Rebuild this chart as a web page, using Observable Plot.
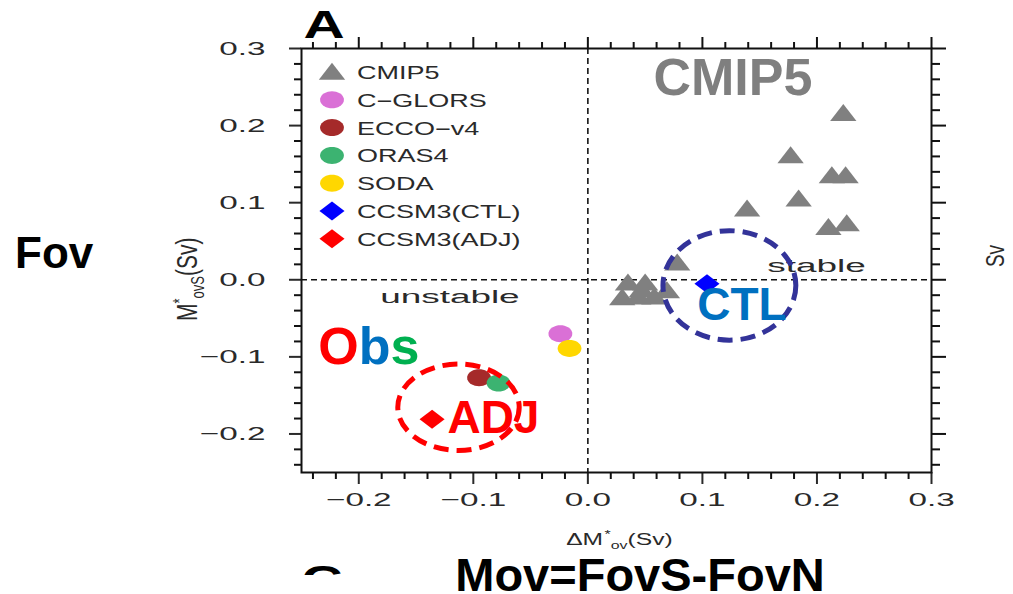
<!DOCTYPE html>
<html>
<head>
<meta charset="utf-8">
<script src="https://cdn.jsdelivr.net/npm/d3@7"></script>
<script src="https://cdn.jsdelivr.net/npm/@observablehq/plot@0.6"></script>
<style>
  html, body { margin: 0; padding: 0; background: #fff; }
  #chart { position: relative; width: 1013px; height: 594px; overflow: hidden; }
</style>
</head>
<body>
<div id="chart"></div>
<script>
// ---- data (Sv) ----
const cmip5X = [0.223, 0.177, 0.213, 0.225, 0.184, 0.139, 0.210, 0.226, 0.078,
                0.035, 0.050, 0.030, 0.044, 0.058, 0.069, 0.047];
const cmip5Y = [0.216, 0.161, 0.135, 0.135, 0.105, 0.092, 0.068, 0.073, 0.022,
                -0.004, -0.004, -0.023, -0.022, -0.022, -0.014, -0.013];

const reanalysisNames = ["C-GLORS", "ECCO-v4", "ORAS4", "SODA"];
const reanalysisX = [-0.024, -0.095, -0.078, -0.016];
const reanalysisY = [-0.070, -0.127, -0.134, -0.089];

const ccsm3Names = ["CCSM3(CTL)", "CCSM3(ADJ)"];
const ccsm3X = [0.104, -0.136];
const ccsm3Y = [-0.005, -0.181];

const legendNames = ["CMIP5", "C\u2212GLORS", "ECCO\u2212v4", "ORAS4", "SODA", "CCSM3(CTL)", "CCSM3(ADJ)"];
const legendShapes = ["triangle", "ellipse", "ellipse", "ellipse", "ellipse", "diamond", "diamond"];
const seriesColors = {
  "CMIP5": "#808080", "C-GLORS": "#da70d6", "ECCO-v4": "#a52a2a", "ORAS4": "#3cb371",
  "SODA": "#ffd700", "CCSM3(CTL)": "#0000ff", "CCSM3(ADJ)": "#ff0000"
};
const legendColors = ["#808080", "#da70d6", "#a52a2a", "#3cb371", "#ffd700", "#0000ff", "#ff0000"];

const majorTicks = [-0.2, -0.1, 0.0, 0.1, 0.2, 0.3];
const minorTicks = [-0.24, -0.22, -0.18, -0.16, -0.14, -0.12, -0.08, -0.06, -0.04, -0.02,
                    0.02, 0.04, 0.06, 0.08, 0.12, 0.14, 0.16, 0.18, 0.22, 0.24, 0.26, 0.28];

// ---- tables ----
const cmip5 = cmip5X.map((x, i) => ({x, y: cmip5Y[i]}));
const reanalysis = reanalysisNames.map((name, i) => ({name, x: reanalysisX[i], y: reanalysisY[i]}));
const ccsm3 = ccsm3Names.map((name, i) => ({name, x: ccsm3X[i], y: ccsm3Y[i]}));

// ---- wide marker shapes (symbol objects, size = area) ----
const wideTriangle = {draw(ctx, size) {
  const r = Math.sqrt(size / Math.PI);
  ctx.moveTo(0, -1.1 * r); ctx.lineTo(1.55 * r, 0.9 * r); ctx.lineTo(-1.55 * r, 0.9 * r); ctx.closePath();
}};
const wideEllipse = {draw(ctx, size) {
  const r = Math.sqrt(size / Math.PI), n = 36;
  for (let i = 0; i < n; ++i) {
    const a = 2 * Math.PI * i / n, px = 1.4 * r * Math.cos(a), py = r * Math.sin(a);
    i ? ctx.lineTo(px, py) : ctx.moveTo(px, py);
  }
  ctx.closePath();
}};
const wideDiamond = {draw(ctx, size) {
  const r = Math.sqrt(size / Math.PI);
  ctx.moveTo(0, -r); ctx.lineTo(1.32 * r, 0); ctx.lineTo(0, r); ctx.lineTo(-1.32 * r, 0); ctx.closePath();
}};
const shapeOf = {triangle: wideTriangle, ellipse: wideEllipse, diamond: wideDiamond};

const fmt = d3.format(".1f");
const noLabel = () => "";
const FONT = "'Liberation Sans', Arial, Helvetica, sans-serif";
const INK = "#111";

const plot = Plot.plot({
  width: 1013,
  height: 594,
  marginLeft: 301,
  marginRight: 82,
  marginTop: 48,
  marginBottom: 122,
  x: {domain: [-0.25, 0.3]},
  y: {domain: [-0.25, 0.3]},
  style: {fontFamily: FONT, background: "transparent", overflow: "visible"},
  marks: [
    Plot.ruleY([0], {stroke: INK, strokeWidth: 1.6, strokeDasharray: "6,4"}),
    Plot.ruleX([0], {stroke: INK, strokeWidth: 1.6, strokeDasharray: "6,4"}),
    // bottom / left axes with labels
    Plot.axisX(majorTicks, {anchor: "bottom", tickSize: 12, tickPadding: 8, tickFormat: fmt,
      fontSize: 19, color: "#2a2a2a", strokeWidth: 2, label: null}),
    Plot.axisX(minorTicks, {anchor: "bottom", tickSize: 7, tickFormat: noLabel, strokeWidth: 2, color: INK, label: null}),
    Plot.axisY(majorTicks, {anchor: "left", tickSize: 12, tickPadding: 24, tickFormat: fmt,
      fontSize: 19, color: "#2a2a2a", strokeWidth: 2, label: null}),
    Plot.axisY(minorTicks, {anchor: "left", tickSize: 7, tickFormat: noLabel, strokeWidth: 2, color: INK, label: null}),
    // top / right ticks only
    Plot.axisX(majorTicks, {anchor: "top", tickSize: 12, tickFormat: noLabel, strokeWidth: 2, color: INK, label: null}),
    Plot.axisX(minorTicks, {anchor: "top", tickSize: 7, tickFormat: noLabel, strokeWidth: 2, color: INK, label: null}),
    Plot.axisY(majorTicks, {anchor: "right", tickSize: 14, tickFormat: noLabel, strokeWidth: 2, color: INK, label: null}),
    Plot.axisY(minorTicks, {anchor: "right", tickSize: 8, tickFormat: noLabel, strokeWidth: 2, color: INK, label: null}),
    Plot.frame({stroke: INK, strokeWidth: 2}),
    // markers
    Plot.dot(cmip5, {x: "x", y: "y", symbol: wideTriangle, r: 8.5, fill: seriesColors["CMIP5"], stroke: null}),
    Plot.dot(reanalysis, {x: "x", y: "y", symbol: wideEllipse, r: 8.5, fill: (d) => seriesColors[d.name], stroke: null}),
    Plot.dot(ccsm3, {x: "x", y: "y", symbol: wideDiamond, r: 9.5, fill: (d) => seriesColors[d.name], stroke: null})
  ]
});

document.getElementById("chart").appendChild(plot);
const svg = d3.select(plot);
const xs = plot.scale("x"), ys = plot.scale("y");
const X = (v) => xs.apply(v), Y = (v) => ys.apply(v);

// horizontally widened tick labels
svg.selectAll("text").each(function () {
  if (!this.textContent) return;
  const w = this.getComputedTextLength();
  this.setAttribute("textLength", w * 1.75);
  this.setAttribute("lengthAdjust", "spacingAndGlyphs");
});

const layer = svg.append("g").attr("text-anchor", "start");

// text widened by factor k around its anchor
function wideText(x, y, str, {k = 1.5, size = 18, anchor = "start", fill = "#2a2a2a", weight = "normal", rotate = 0} = {}) {
  const g = layer.append("g").attr("transform",
    rotate ? `translate(${x},${y}) rotate(${rotate}) scale(1,${k})` : `translate(${x},${y}) scale(${k},1)`);
  return g.append("text")
    .attr("text-anchor", anchor).attr("font-family", FONT).attr("font-size", size)
    .attr("font-weight", weight).attr("fill", fill).text(str);
}

// legend (inside the frame, top-left)
legendNames.forEach((name, i) => {
  const cy = 72 + i * 27.8;
  const shape = shapeOf[legendShapes[i]];
  const r = legendShapes[i] === "diamond" ? 9.5 : 8.5;
  const p = d3.path();
  shape.draw(p, r * r * Math.PI);
  layer.append("path").attr("transform", `translate(332,${cy})`).attr("d", p.toString()).attr("fill", legendColors[i]);
  wideText(357, cy + 7, name, {k: 1.5, size: 18});
});

// regime labels
wideText(X(-0.120), Y(-0.031), "unstable", {k: 2.05, size: 18, anchor: "middle"});
wideText(X(0.200), Y(0.0095), "stable", {k: 2.05, size: 18, anchor: "middle"});

// axis titles
{
  const g = layer.append("g").attr("transform", `translate(${X(0.028)},545) scale(1.45,1)`);
  const t = g.append("text").attr("text-anchor", "middle").attr("font-family", FONT)
    .attr("font-size", 17).attr("fill", "#2a2a2a");
  t.append("tspan").text("\u0394M");
  t.append("tspan").attr("font-size", 11).attr("dy", -7).attr("dx", 1).text("*");
  t.append("tspan").attr("font-size", 11).attr("dy", 11).text("ov");
  t.append("tspan").attr("dy", -4).text("(Sv)");
}
{
  const g = layer.append("g").attr("transform", `translate(197,${Y(0)}) rotate(-90) scale(1,1.4)`);
  const t = g.append("text").attr("text-anchor", "middle").attr("font-family", FONT)
    .attr("font-size", 21).attr("fill", "#2a2a2a");
  t.append("tspan").text("M");
  t.append("tspan").attr("font-size", 13).attr("dy", -8).text("*");
  t.append("tspan").attr("font-size", 13).attr("dy", 13).text("ovS");
  t.append("tspan").attr("dy", -5).text("(Sv)");
}

// panel letters and the neighbouring panel's axis unit
wideText(324, 38, "A", {k: 1.5, size: 38, anchor: "middle", fill: "#000", weight: "bold"});
svg.append("clipPath").attr("id", "clipC").append("rect").attr("x", 280).attr("y", 540).attr("width", 120).attr("height", 35);
layer.append("g").attr("clip-path", "url(#clipC)")
  .append("g").attr("transform", "translate(322,593) scale(1.5,1)")
  .append("text").attr("text-anchor", "middle").attr("font-family", FONT).attr("font-size", 38)
  .attr("font-weight", "bold").attr("fill", "#000").text("C");
wideText(1004, 256, "Sv", {k: 1.4, size: 19, anchor: "middle", rotate: -90});

// dashed annotation ellipses
function dashedEllipse(cx, cy, rx, ry, color) {
  layer.append("ellipse")
    .attr("cx", X(cx)).attr("cy", Y(cy))
    .attr("rx", Math.abs(X(cx + rx) - X(cx))).attr("ry", Math.abs(Y(cy + ry) - Y(cy)))
    .attr("fill", "none").attr("stroke", color).attr("stroke-width", 5).attr("stroke-dasharray", "15,8");
}
dashedEllipse(-0.1125, -0.166, 0.053, 0.056, "#ff0000");
dashedEllipse(0.124, -0.008, 0.058, 0.071, "#333399");

// bold annotations
function bold(x, y, str, size, fill, anchor = "middle") {
  return layer.append("text").attr("x", x).attr("y", y).attr("text-anchor", anchor)
    .attr("font-family", FONT).attr("font-weight", "bold").attr("font-size", size).attr("fill", fill).text(str);
}
bold(X(0.127), Y(0.239), "CMIP5", 52, "#7f7f7f");
bold(X(-0.082), Y(-0.199), "ADJ", 46, "#ff0000");
bold(X(0.135), Y(-0.053), "CTL", 46, "#0070c0");
{
  const t = layer.append("text").attr("x", X(-0.235)).attr("y", Y(-0.110)).attr("text-anchor", "start")
    .attr("font-family", FONT).attr("font-weight", "bold").attr("font-size", 52);
  t.append("tspan").attr("fill", "#ff0000").text("O");
  t.append("tspan").attr("fill", "#0070c0").text("b");
  t.append("tspan").attr("fill", "#00b050").text("s");
}
bold(15, 268, "Fov", 44, "#000", "start");
bold(640, 591, "Mov=FovS-FovN", 47, "#000");
</script>
</body>
</html>
